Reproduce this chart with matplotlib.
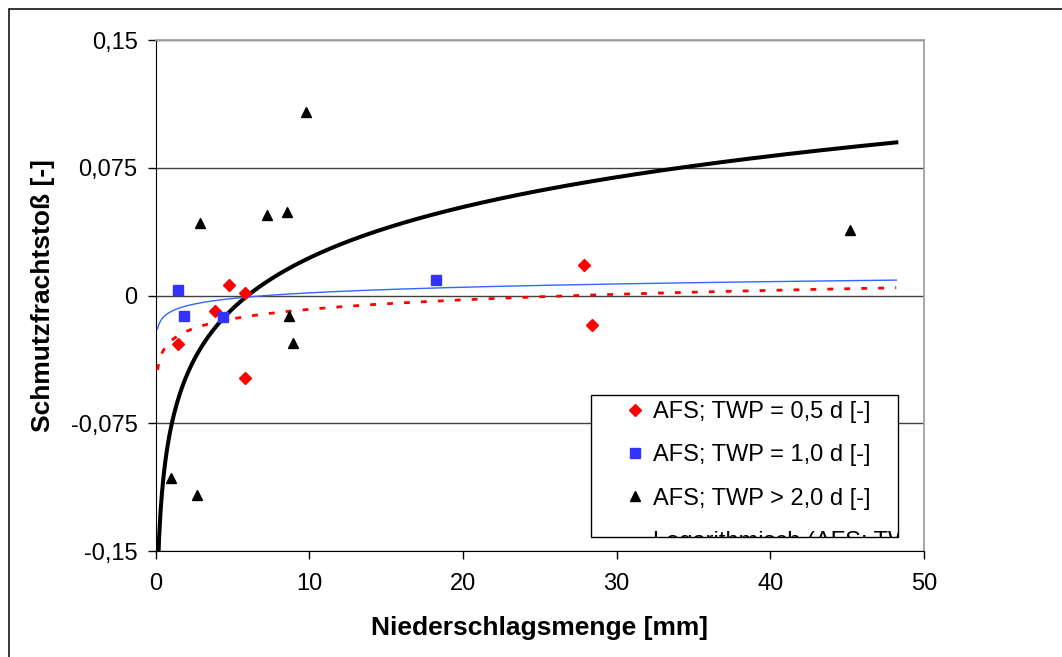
import numpy as np
import matplotlib
matplotlib.use("Agg")
import matplotlib.pyplot as plt
from matplotlib.patches import Rectangle
from matplotlib.lines import Line2D
from matplotlib.transforms import Bbox, TransformedBbox

plt.rcParams['font.family'] = ['Liberation Sans', 'DejaVu Sans']

# Datenpunkte
x_05 = [1.47, 3.87, 4.78, 5.8, 5.8, 27.9, 28.4]
y_05 = [-0.0284, -0.0088, 0.0059, 0.0016, -0.0487, 0.0182, -0.0176]

x_10 = [1.47, 1.85, 4.36, 18.25]
y_10 = [0.0035, -0.0122, -0.0127, 0.0094]

x_20 = [0.98, 2.67, 2.88, 7.26, 8.56, 9.78, 8.67, 8.95, 45.17]
y_20 = [-0.1073, -0.117, 0.0423, 0.0474, 0.0493, 0.108, -0.0123, -0.028, 0.0382]

labels = ["AFS; TWP = 0,5 d [-]", "AFS; TWP = 1,0 d [-]", "AFS; TWP > 2,0 d [-]",
          "Logarithmisch (AFS; TWP > 2,0 d [-])"]
xticks = [0, 10, 20, 30, 40, 50]
yticks = [-0.15, -0.075, 0, 0.075, 0.15]
ytick_labels = ["-0,15", "-0,075", "0", "0,075", "0,15"]

fig = plt.figure(figsize=(10.62, 6.57), dpi=100)
ax = fig.add_axes([0.1466, 0.1613, 0.7234, 0.7778])

# logarithmische Trendlinien y = a*ln(x) + b
x_fit = np.linspace(0.12, 48.2, 500)
def trend(x, y):
    a, b = np.polyfit(np.log(x), y, 1)
    return a * np.log(x_fit) + b

ax.plot(x_fit, trend(x_20, y_20), color="black", lw=2.9, zorder=3)
ax.plot(x_fit, trend(x_10, y_10), color="#3366ff", lw=1.0, zorder=3)
ax.plot(x_fit, trend(x_05, y_05), color="red", lw=2.0, dashes=(2.1, 4.0), zorder=3)

ax.plot(x_05, y_05, "D", color="red", ms=6, ls="none", zorder=4)
ax.plot(x_10, y_10, "s", color="#3333ff", ms=6.5, ls="none", zorder=4)
ax.plot(x_20, y_20, "^", color="black", ms=7, ls="none", zorder=4)

ax.set_xlim(0, 50)
ax.set_ylim(-0.15, 0.15)
ax.set_xticks(xticks)
ax.set_yticks(yticks)
ax.set_yticklabels(ytick_labels)
ax.tick_params(direction="out", length=6, width=1, labelsize=17, colors="black")
ax.tick_params(axis="x", pad=10)
ax.tick_params(axis="y", pad=7)
ax.yaxis.grid(True, color="#404040", lw=1)
ax.set_axisbelow(True)
for s in ["top", "right"]:
    ax.spines[s].set_color("#a0a0a0")
    ax.spines[s].set_linewidth(1.3)

ax.set_xlabel("Niederschlagsmenge [mm]", fontsize=19, fontweight="bold", labelpad=15)
ax.set_ylabel("Schmutzfrachtstoß [-]", fontsize=19, fontweight="bold", labelpad=11)

# Legende (unten abgeschnitten wie im Original)
box = [0.5666, 0.0274, 0.9662, 0.3053]
ax.add_patch(Rectangle((box[0], box[1]), box[2] - box[0], box[3] - box[1],
                       transform=ax.transAxes, facecolor="white", edgecolor="black",
                       lw=1, zorder=5))
handles = [Line2D([], [], marker="D", color="red", ls="none", ms=6),
           Line2D([], [], marker="s", color="#3333ff", ls="none", ms=6.5),
           Line2D([], [], marker="^", color="black", ls="none", ms=7),
           Line2D([], [], color="black", lw=2.6)]
leg = ax.legend(handles, labels, loc="upper left", bbox_to_anchor=(0.6116, 0.2935),
                frameon=False, fontsize=17, borderpad=0, borderaxespad=0,
                handlelength=0.8, handletextpad=0.37, labelspacing=0.9)
leg.set_zorder(6)
clip = TransformedBbox(Bbox.from_extents(*box), ax.transAxes)
for t in leg.get_texts():
    t.set_clip_box(clip)
for h in leg.legend_handles:
    h.set_clip_box(clip)

# Rahmen um die Grafik
fig.patches.append(Rectangle((9 / 1062, -0.1), 1.2, 0.9863 + 0.1, transform=fig.transFigure,
                             fill=False, edgecolor="black", lw=1.1))

fig.savefig("out.png", dpi=100, facecolor="white")
